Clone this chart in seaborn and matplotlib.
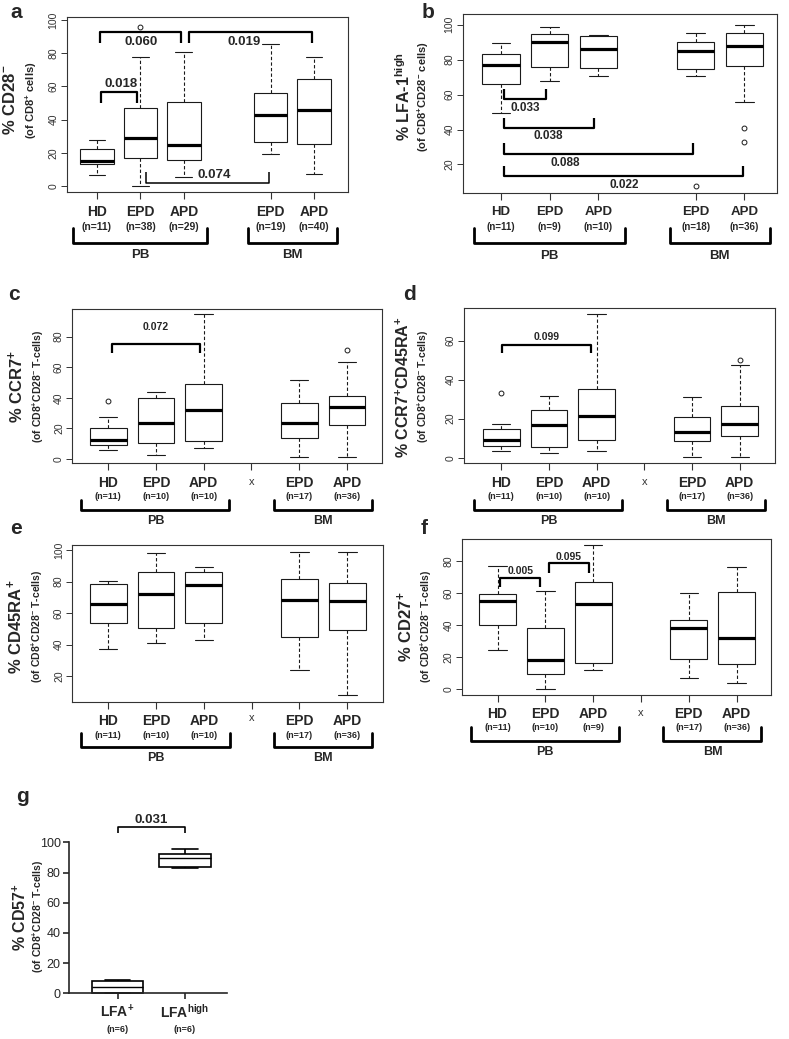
import pandas as pd
import matplotlib
matplotlib.use('Agg')
import matplotlib.pyplot as plt
import matplotlib.transforms as mtrans
import seaborn as sns

sns.set_theme(style='ticks')
plt.rcParams['font.family'] = ['Liberation Sans', 'DejaVu Sans']
plt.rcParams['mathtext.fontset'] = 'custom'
plt.rcParams['mathtext.rm'] = 'Liberation Sans'
plt.rcParams['mathtext.bf'] = 'Liberation Sans:bold'
plt.rcParams['mathtext.it'] = 'Liberation Sans:italic'

W, H = 789, 1039

# ---- data (whisker low, Q1, median, Q3, whisker high, outliers)
keys = ['HD', 'EPD PB', 'APD PB', 'EPD BM', 'APD BM']
order = ['HD', 'EPD PB', 'APD PB', 'gap', 'EPD BM', 'APD BM']
names = ['HD', 'EPD', 'APD', 'EPD', 'APD']

a_n = ['(n=11)', '(n=38)', '(n=29)', '(n=19)', '(n=40)']
a_low = [6.4, 0, 5.4, 19.5, 7.5]
a_q1 = [13.4, 16.8, 15.8, 26.5, 25.5]
a_med = [15.2, 28.7, 24.8, 43, 46]
a_q3 = [22, 47, 50.5, 56, 64.5]
a_high = [27.8, 77.5, 81, 85.5, 77.5]
a_out = [[], [96], [], [], []]

b_n = ['(n=11)', '(n=9)', '(n=10)', '(n=18)', '(n=36)']
b_low = [49.7, 67.7, 70.4, 70.6, 55.6]
b_q1 = [66, 75.7, 75.1, 74.6, 76.1]
b_med = [76.7, 90.2, 86.4, 85, 87.6]
b_q3 = [83.2, 95, 93.3, 90.4, 95.2]
b_high = [89.5, 98.5, 94.3, 95.2, 99.6]
b_out = [[], [], [], [7.8], [40.7, 33.1]]

c_n = ['(n=11)', '(n=10)', '(n=10)', '(n=17)', '(n=36)']
c_low = [5.9, 2.6, 7.4, 1.1, 1.5]
c_q1 = [9.1, 10.2, 12, 13.5, 22.2]
c_med = [12.4, 23.7, 32, 23.3, 33.7]
c_q3 = [20, 39.6, 49.3, 36.7, 41]
c_high = [27.6, 43.5, 95, 51.5, 63.5]
c_out = [[38], [], [], [], [71]]

d_n = ['(n=11)', '(n=10)', '(n=10)', '(n=17)', '(n=36)']
d_low = [3.4, 2.2, 3.4, 0.3, 0.3]
d_q1 = [6.2, 5.6, 9, 8.5, 11.1]
d_med = [9, 16.8, 21.5, 13.3, 17.3]
d_q3 = [14.5, 24.4, 35.4, 20.9, 26.5]
d_high = [17.3, 31.6, 73.7, 30.9, 47.5]
d_out = [[33.3], [], [], [], [50.1]]

e_n = ['(n=11)', '(n=10)', '(n=10)', '(n=17)', '(n=36)']
e_low = [36.9, 41, 42.7, 23.7, 7.9]
e_q1 = [53.4, 50.7, 53.8, 44.8, 49]
e_med = [65.5, 71.9, 77.8, 68.5, 67.6]
e_q3 = [78.2, 86.2, 86.2, 81.4, 79.2]
e_high = [80.3, 98.3, 89.4, 98.9, 98.9]
e_out = [[], [], [], [], []]

f_n = ['(n=11)', '(n=10)', '(n=9)', '(n=17)', '(n=36)']
f_low = [24.6, 0.4, 12.1, 7.1, 3.8]
f_q1 = [40, 9.6, 16.3, 19, 16]
f_med = [55, 18.3, 53.3, 38.3, 32]
f_q3 = [59.4, 38.5, 67.3, 43.3, 61]
f_high = [77.3, 61.5, 90.2, 60, 76.7]
f_out = [[], [], [], [], []]

g_keys = ['LFA+', 'LFAhigh']
g_names = [r'LFA$^{\mathbf{+}}$', r'LFA$^{\mathbf{high}}$']
g_n = ['(n=6)', '(n=6)']
g_low = [0, 83.2]
g_q1 = [0.3, 83.5]
g_med = [4.5, 89.3]
g_q3 = [8, 92.3]
g_high = [9, 95.8]
g_out = [[], []]


def fake_sample(lo, q1, med, q3, hi, extra):
    # sorted values whose quartiles / whiskers / fliers equal the read summary
    low_tail = sorted(v for v in extra if v < q1) + [lo]
    high_tail = [hi] + sorted(v for v in extra if v > q3)
    k = max(len(low_tail), len(high_tail))
    low_tail = low_tail + [q1] * (k - len(low_tail))
    high_tail = [q3] * (k - len(high_tail)) + high_tail
    return (low_tail + [q1] + [(q1 + med) / 2] * (k - 1) + [med]
            + [(med + q3) / 2] * (k - 1) + [q3] + high_tail)


def long_table(groups, low, q1, med, q3, high, extra):
    rows = []
    for key, a, b, c, d, e, f in zip(groups, low, q1, med, q3, high, extra):
        for v in fake_sample(a, b, c, d, e, f):
            rows.append((key, v))
    return pd.DataFrame(rows, columns=['group', 'value'])


fig = plt.figure(figsize=(W / 100, H / 100), dpi=100)


def px_axes(left, top, right, bottom):
    return fig.add_axes([left / W, 1 - bottom / H, (right - left) / W, (bottom - top) / H])


def fy(px):
    return 1 - px / H


def r_panel(box, table, xlim, ylim, yticks, gap_tick):
    ax = px_axes(*box)
    sns.boxplot(data=table, x='group', y='value', order=order, ax=ax,
                color='white', saturation=1, linecolor='#1a1a1a', linewidth=0.8,
                width=0.77, whis=1.5,
                whiskerprops={'linestyle': (0, (3, 2))},
                medianprops={'linewidth': 2.3, 'color': 'black'},
                flierprops={'marker': 'o', 'markersize': 3.5, 'markerfacecolor': 'none',
                            'markeredgecolor': '#1a1a1a', 'markeredgewidth': 0.7})
    ax.set_xlim(*xlim)
    ax.set_ylim(*ylim)
    ax.set_yticks(yticks)
    ax.set_xticks([0, 1, 2, 3, 4, 5] if gap_tick else [0, 1, 2, 4, 5])
    ax.set_xticklabels([])
    ax.set_xlabel('')
    ax.set_ylabel('')
    for s in ax.spines.values():
        s.set_linewidth(0.8)
        s.set_color('#333333')
    ax.tick_params(axis='y', labelrotation=90, labelsize=7.5, length=4, width=0.7,
                   colors='#333333', pad=2)
    ax.tick_params(axis='x', length=5, width=0.8, colors='#333333')
    for lab in ax.get_yticklabels():
        lab.set_va('center')
    return ax


def bracket(ax, x1, x2, y_bar, y_leg, lw=1.6):
    ax.plot([x1, x1, x2, x2], [y_leg, y_bar, y_bar, y_leg], color='black', lw=lw,
            solid_capstyle='butt', clip_on=False)


def under_labels(ax, ns, y_name, y_n, y_br, y_leg, y_grp, gap_x=None,
                 s_name=10, s_n=7, s_grp=9.5):
    tr = mtrans.blended_transform_factory(ax.transData, fig.transFigure)
    for p, nm, n in zip([0, 1, 2, 4, 5], names, ns):
        ax.text(p, fy(y_name), nm, transform=tr, ha='center', va='center',
                fontsize=s_name, fontweight='bold')
        ax.text(p, fy(y_n), n, transform=tr, ha='center', va='center',
                fontsize=s_n, fontweight='bold')
    if gap_x is not None:
        ax.text(3, fy(gap_x), 'x', transform=tr, ha='center', va='center', fontsize=8,
                color='#333333')
    for (x1, x2), grp in zip([(-0.56, 2.54), (3.47, 5.52)], ['PB', 'BM']):
        ax.plot([x1, x1, x2, x2], [fy(y_leg), fy(y_br), fy(y_br), fy(y_leg)],
                transform=tr, color='black', lw=2, clip_on=False)
        ax.text((x1 + x2) / 2, fy(y_grp), grp, transform=tr, ha='center', va='center',
                fontsize=s_grp, fontweight='bold')


def y_titles(x_main, x_sub, y_c, main, sub, s_main=12, s_sub=7.5):
    fig.text(x_main / W, fy(y_c), main, rotation=90, ha='center', va='center',
             fontsize=s_main, fontweight='bold')
    fig.text(x_sub / W, fy(y_c), sub, rotation=90, ha='center', va='center',
             fontsize=s_sub, fontweight='bold')


def letter(x, y, s):
    fig.text(x / W, fy(y), s, ha='center', va='center', fontsize=15, fontweight='bold')


sub_t = r'(of CD8$^{\mathbf{+}}$CD28$^{\mathbf{-}}$ T-cells)'

# ---- a
ax = r_panel((67, 17, 348, 192), long_table(keys, a_low, a_q1, a_med, a_q3, a_high, a_out),
             (-0.69, 5.78), (-3.6, 101.8), [0, 20, 40, 60, 80, 100], False)
bracket(ax, 0.1, 0.93, 56.4, 50)
bracket(ax, 0.08, 1.93, 93, 86)
bracket(ax, 2.12, 4.96, 93, 86)
bracket(ax, 1.12, 3.97, 1.8, 8.4, lw=1.1)
for x, y, t in [(0.55, 61.4, '0.018'), (1.01, 86.8, '0.060'), (3.39, 86.8, '0.019'),
                (2.7, 6.8, '0.074')]:
    ax.text(x, y, t, ha='center', va='center', fontsize=9.5, fontweight='bold')
under_labels(ax, a_n, 211.7, 226.7, 243.3, 228.3, 255, s_n=7.5)
y_titles(10, 31.7, 100, r'% CD28$^{\mathbf{-}}$', r'(of CD8$^{\mathbf{+}}$ cells)', s_sub=8)
letter(16, 12.7, 'a')

# ---- b
ax = r_panel((463, 14.3, 777, 192.7), long_table(keys, b_low, b_q1, b_med, b_q3, b_high, b_out),
             (-0.78, 5.67), (3.8, 106), [20, 40, 60, 80, 100], False)
bracket(ax, 0.07, 0.93, 57.7, 63)
bracket(ax, 0.07, 1.92, 40.7, 46.5)
bracket(ax, 0.07, 3.94, 26, 32)
bracket(ax, 0.07, 4.97, 13.6, 19.3)
for x, y, t in [(0.49, 52.2, '0.033'), (0.97, 36, '0.038'), (1.33, 20.6, '0.088'),
                (2.53, 8.2, '0.022')]:
    ax.text(x, y, t, ha='center', va='center', fontsize=8.5, fontweight='bold')
under_labels(ax, b_n, 211.7, 226.7, 242.7, 228.3, 256, s_name=9.5, s_n=7)
y_titles(403.3, 423.3, 96.7, r'% LFA-1$^{\mathbf{high}}$',
         r'(of CD8$^{\mathbf{+}}$CD28$^{\mathbf{-}}$ cells)', s_main=11.5, s_sub=8)
letter(428, 12.7, 'b')

# ---- c
ax = r_panel((72.3, 309, 382.3, 463.3), long_table(keys, c_low, c_q1, c_med, c_q3, c_high, c_out),
             (-0.75, 5.74), (-2.8, 98), [0, 20, 40, 60, 80], True)
bracket(ax, 0.09, 1.92, 75.2, 69.5)
ax.text(1.0, 86, '0.072', ha='center', va='center', fontsize=7.5, fontweight='bold')
under_labels(ax, c_n, 483.3, 496.7, 510, 500, 520.7, gap_x=481.7, s_n=6.5, s_grp=9)
y_titles(16.7, 38.3, 386.7, r'% CCR7$^{\mathbf{+}}$', sub_t)
letter(14, 295, 'c')

# ---- d
ax = r_panel((464, 308.3, 775, 463.3), long_table(keys, d_low, d_q1, d_med, d_q3, d_high, d_out),
             (-0.78, 5.74), (-2.9, 76.6), [0, 20, 40, 60], True)
bracket(ax, 0.02, 1.88, 57.8, 53.5)
ax.text(0.96, 61.7, '0.099', ha='center', va='center', fontsize=7.5, fontweight='bold')
under_labels(ax, d_n, 483.3, 496.7, 510, 500, 520.7, gap_x=481.7, s_n=6.5, s_grp=9)
y_titles(403.3, 423.3, 386.7, r'% CCR7$^{\mathbf{+}}$CD45RA$^{\mathbf{+}}$', sub_t, s_main=11.5)
letter(409, 295, 'd')

# ---- e
ax = r_panel((72.3, 545, 382.7, 701.7), long_table(keys, e_low, e_q1, e_med, e_q3, e_high, e_out),
             (-0.75, 5.74), (3.7, 103.2), [20, 40, 60, 80, 100], True)
under_labels(ax, e_n, 720.7, 735, 746.7, 732.7, 757.7, gap_x=718.3, s_n=6.5, s_grp=9)
y_titles(15, 37.3, 626.7, r'% CD45RA$^{\mathbf{+}}$', sub_t)
letter(16, 528.3, 'e')

# ---- f
ax = r_panel((461.7, 539.3, 771, 695), long_table(keys, f_low, f_q1, f_med, f_q3, f_high, f_out),
             (-0.75, 5.72), (-3.6, 93.7), [0, 20, 40, 60, 80], True)
bracket(ax, 0.05, 0.88, 69.4, 63.7)
bracket(ax, 1.08, 1.91, 78.7, 72.9)
ax.text(0.48, 74, '0.005', ha='center', va='center', fontsize=7.5, fontweight='bold')
ax.text(1.48, 82.9, '0.095', ha='center', va='center', fontsize=7.5, fontweight='bold')
under_labels(ax, f_n, 714, 727.7, 741, 726.7, 751.7, gap_x=712.7, s_n=6.5, s_grp=9)
y_titles(405, 426.7, 626.7, r'% CD27$^{\mathbf{+}}$', sub_t)
letter(424, 528.3, 'f')

# ---- g (prism style)
ax = px_axes(69, 842.3, 226.7, 993.3)
g_table = long_table(g_keys, g_low, g_q1, g_med, g_q3, g_high, g_out)
sns.boxplot(data=g_table, x='group', y='value', order=g_keys, ax=ax,
            color='white', saturation=1, linecolor='black', linewidth=1.2, width=0.76,
            whis=1.5, medianprops={'linewidth': 1.0, 'color': 'black'})
for art in ax.patches + ax.lines:
    art.set_clip_on(False)
ax.set_xlim(-0.72, 1.62)
ax.set_ylim(0, 100)
ax.set_yticks([0, 20, 40, 60, 80, 100])
ax.set_xticks([0, 1])
ax.set_xticklabels([])
ax.set_xlabel('')
ax.set_ylabel('')
sns.despine(ax=ax)
for s in ax.spines.values():
    s.set_linewidth(1.2)
ax.tick_params(axis='both', length=4, width=1.2, labelsize=9, pad=2)
bracket(ax, 0, 1, 109.9, 106, lw=1.2)
ax.text(0.5, 114.8, '0.031', ha='center', va='center', fontsize=9.5, fontweight='bold')
tr = mtrans.blended_transform_factory(ax.transData, fig.transFigure)
for p, nm, n in zip([0, 1], g_names, g_n):
    ax.text(p, fy(1012), nm, transform=tr, ha='center', va='center', fontsize=10,
            fontweight='bold')
    ax.text(p, fy(1029.3), n, transform=tr, ha='center', va='center', fontsize=6.5,
            fontweight='bold')
y_titles(20.7, 38.3, 916.7, r'% CD57$^{\mathbf{+}}$', sub_t, s_main=11.5, s_sub=7.5)
letter(22.7, 796.7, 'g')

fig.savefig('out.png', dpi=100, facecolor='white')
